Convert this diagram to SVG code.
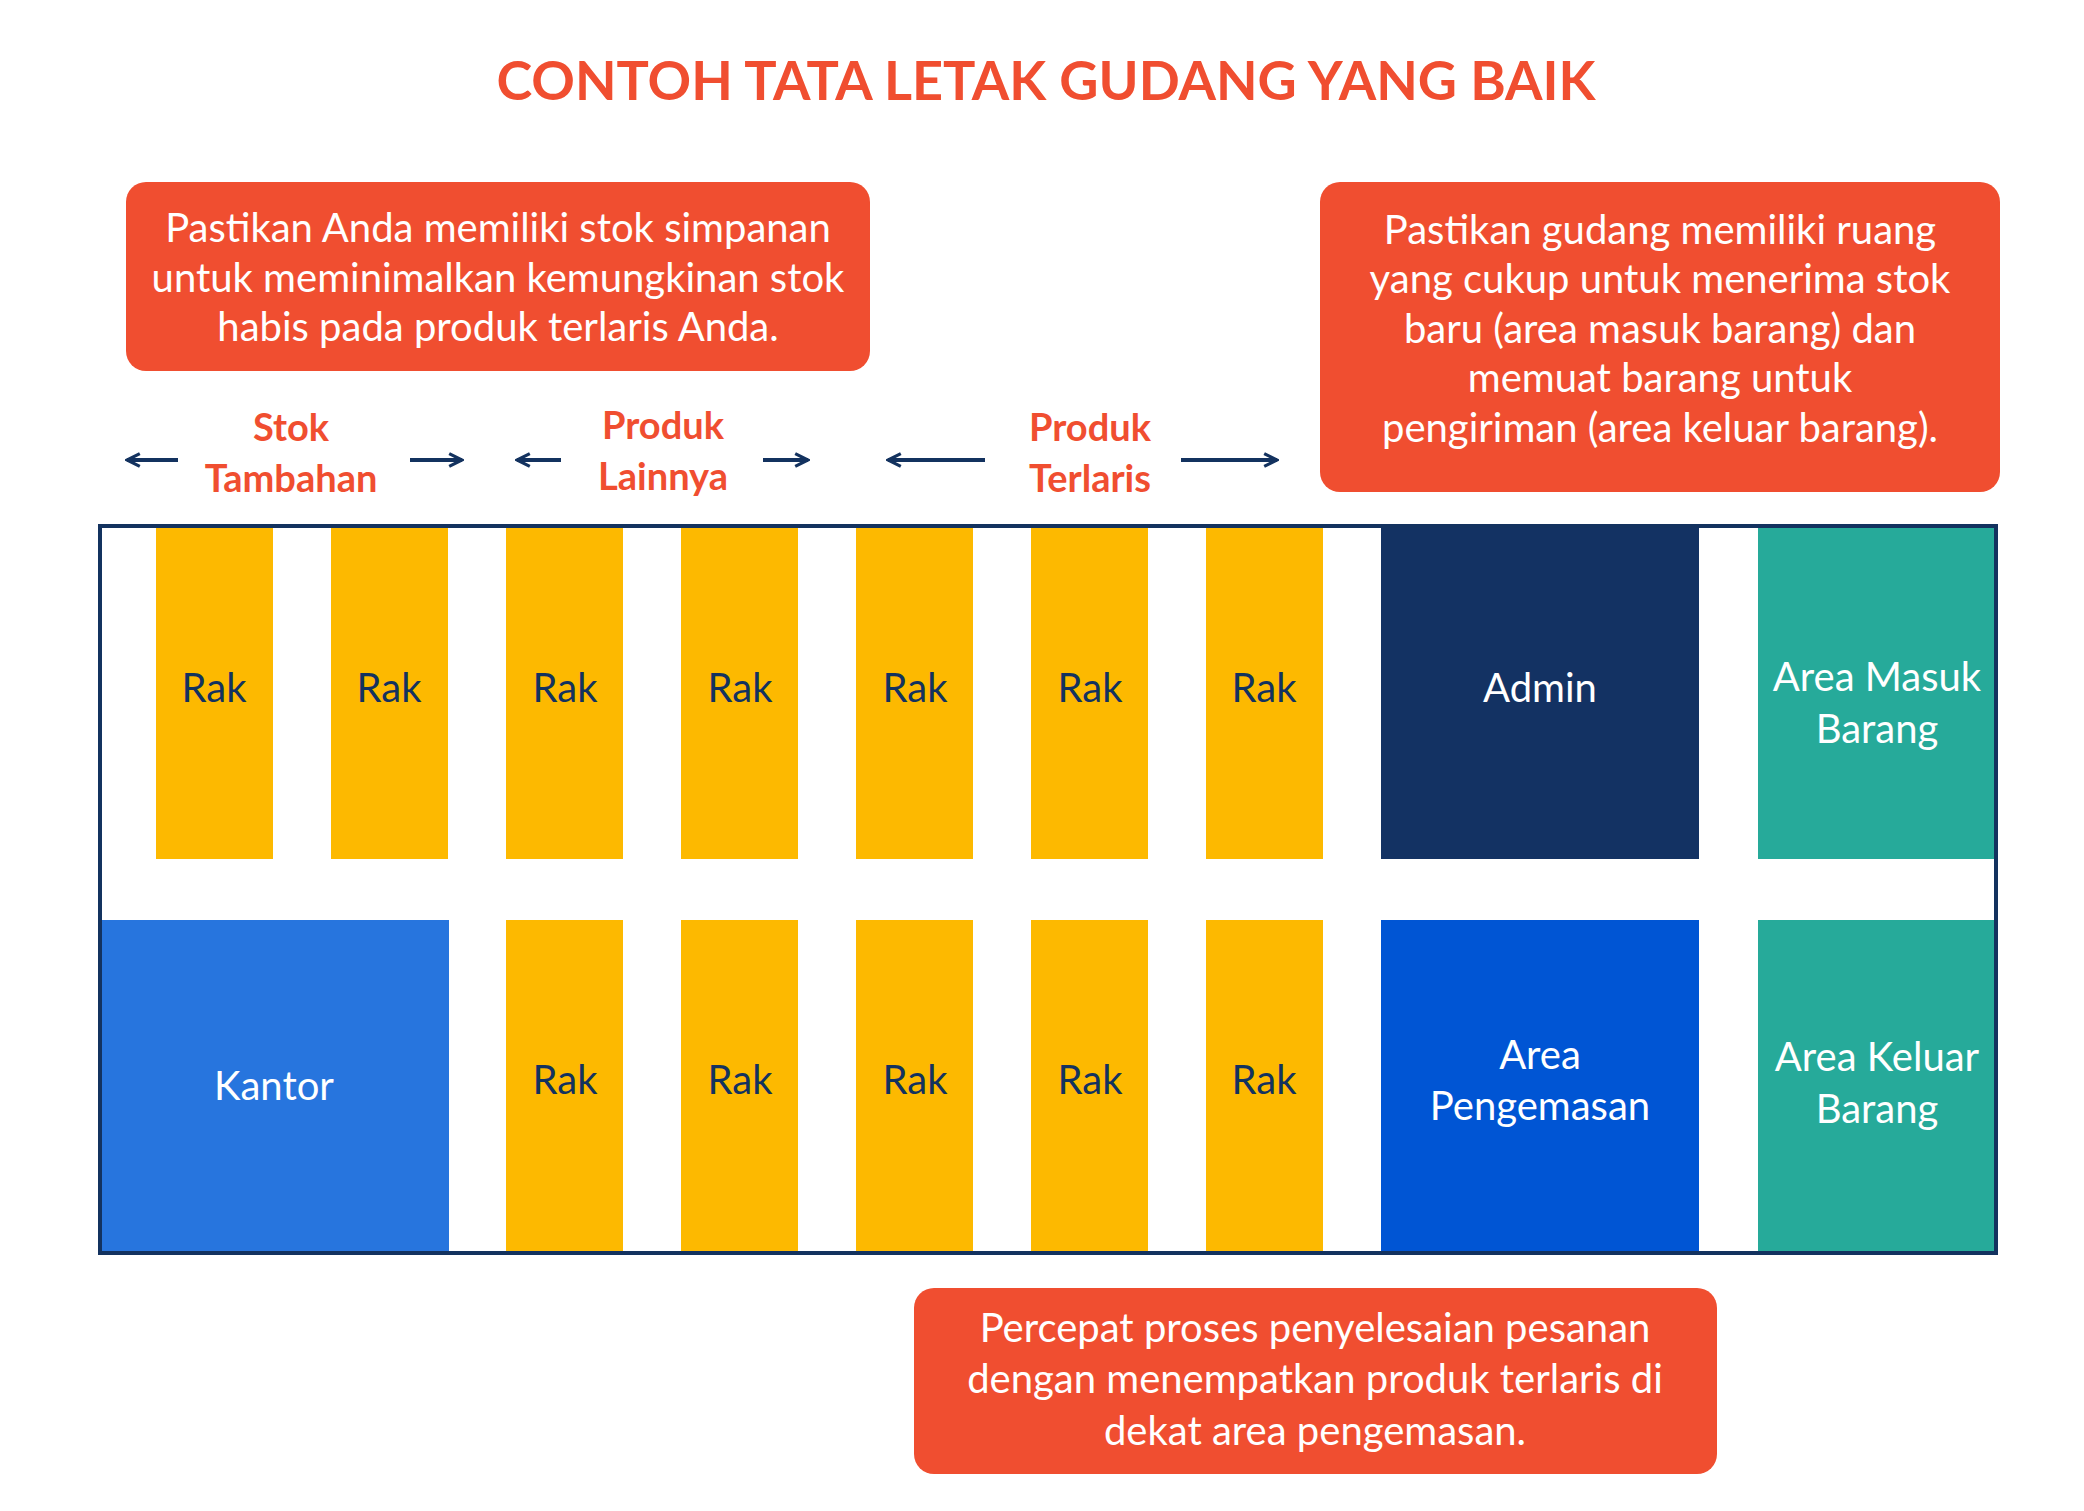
<svg xmlns="http://www.w3.org/2000/svg" width="2084" height="1511" viewBox="0 0 2084 1511">
<style>
text{font-family:Lato,"Noto Sans",sans-serif;text-anchor:middle}
.note{fill:#F04E30}
.nt{fill:#fff;font-size:40px}
.rack{fill:#FDB900}
.rt{fill:#13325F;font-size:40px}
.wt{fill:#fff;font-size:40px}
.lbl{fill:#F04E30;font-size:38px;font-weight:bold}
.arr{stroke:#13325F;stroke-width:4;fill:none;marker-end:url(#ah)}
</style>
<defs><marker id="ah" viewBox="0 0 10 10" refX="9" refY="5" markerWidth="4" markerHeight="4" orient="auto"><path d="M1,1 L9,5 L1,9" fill="none" stroke="#13325F" stroke-width="2"/></marker></defs>
<rect width="2084" height="1511" fill="#fff"/>
<text x="1046" y="100" fill="#F04E30" font-size="54" font-weight="bold">CONTOH TATA LETAK GUDANG YANG BAIK</text>
<g id="note1"><rect class="note" x="126" y="182" width="744" height="189" rx="20"/>
<text class="nt" x="498" y="242">Pastikan Anda memiliki stok simpanan</text>
<text class="nt" x="498" y="292">untuk meminimalkan kemungkinan stok</text>
<text class="nt" x="498" y="341">habis pada produk terlaris Anda.</text></g>
<g id="note2"><rect class="note" x="1320" y="182" width="680" height="310" rx="20"/>
<text class="nt" x="1660" y="244">Pastikan gudang memiliki ruang</text>
<text class="nt" x="1660" y="293">yang cukup untuk menerima stok</text>
<text class="nt" x="1660" y="343">baru (area masuk barang) dan</text>
<text class="nt" x="1660" y="392">memuat barang untuk</text>
<text class="nt" x="1660" y="442">pengiriman (area keluar barang).</text></g>
<g id="note3"><rect class="note" x="914" y="1288" width="803" height="186" rx="20"/>
<text class="nt" x="1315" y="1342">Percepat proses penyelesaian pesanan</text>
<text class="nt" x="1315" y="1393">dengan menempatkan produk terlaris di</text>
<text class="nt" x="1315" y="1445">dekat area pengemasan.</text></g>
<g id="labels">
<text class="lbl" x="291" y="441">Stok</text><text class="lbl" x="291" y="492">Tambahan</text>
<text class="lbl" x="663" y="439">Produk</text><text class="lbl" x="663" y="490">Lainnya</text>
<text class="lbl" x="1090" y="441">Produk</text><text class="lbl" x="1090" y="492">Terlaris</text>
</g>
<g id="connectors">
<line class="arr" x1="178" y1="460" x2="127" y2="460"/>
<line class="arr" x1="410" y1="460" x2="462" y2="460"/>
<line class="arr" x1="561" y1="460" x2="517" y2="460"/>
<line class="arr" x1="763" y1="460" x2="808" y2="460"/>
<line class="arr" x1="985" y1="460" x2="888" y2="460"/>
<line class="arr" x1="1181" y1="460" x2="1277" y2="460"/>
</g>
<g id="racks-top">
<rect class="rack" x="156" y="526" width="117" height="333"/><text class="rt" x="214" y="702">Rak</text>
<rect class="rack" x="331" y="526" width="117" height="333"/><text class="rt" x="389" y="702">Rak</text>
<rect class="rack" x="506" y="526" width="117" height="333"/><text class="rt" x="565" y="702">Rak</text>
<rect class="rack" x="681" y="526" width="117" height="333"/><text class="rt" x="740" y="702">Rak</text>
<rect class="rack" x="856" y="526" width="117" height="333"/><text class="rt" x="915" y="702">Rak</text>
<rect class="rack" x="1031" y="526" width="117" height="333"/><text class="rt" x="1090" y="702">Rak</text>
<rect class="rack" x="1206" y="526" width="117" height="333"/><text class="rt" x="1264" y="702">Rak</text>
</g>
<g id="racks-bottom">
<rect class="rack" x="506" y="920" width="117" height="333"/><text class="rt" x="565" y="1094">Rak</text>
<rect class="rack" x="681" y="920" width="117" height="333"/><text class="rt" x="740" y="1094">Rak</text>
<rect class="rack" x="856" y="920" width="117" height="333"/><text class="rt" x="915" y="1094">Rak</text>
<rect class="rack" x="1031" y="920" width="117" height="333"/><text class="rt" x="1090" y="1094">Rak</text>
<rect class="rack" x="1206" y="920" width="117" height="333"/><text class="rt" x="1264" y="1094">Rak</text>
</g>
<g id="admin"><rect x="1381" y="526" width="318" height="333" fill="#133263"/><text class="wt" x="1540" y="702">Admin</text></g>
<g id="masuk"><rect x="1758" y="526" width="237" height="333" fill="#26AA9A"/><text class="wt" x="1877" y="691">Area Masuk</text><text class="wt" x="1877" y="743">Barang</text></g>
<g id="kantor"><rect x="100" y="920" width="349" height="333" fill="#2775DE"/><text class="wt" x="274" y="1100">Kantor</text></g>
<g id="pengemasan"><rect x="1381" y="920" width="318" height="333" fill="#0055D4"/><text class="wt" x="1540" y="1069">Area</text><text class="wt" x="1540" y="1120">Pengemasan</text></g>
<g id="keluar"><rect x="1758" y="920" width="237" height="333" fill="#26AA9A"/><text class="wt" x="1877" y="1071">Area Keluar</text><text class="wt" x="1877" y="1123">Barang</text></g>
<rect id="frame" x="100" y="526" width="1896" height="727" fill="none" stroke="#13325F" stroke-width="4"/>
</svg>
